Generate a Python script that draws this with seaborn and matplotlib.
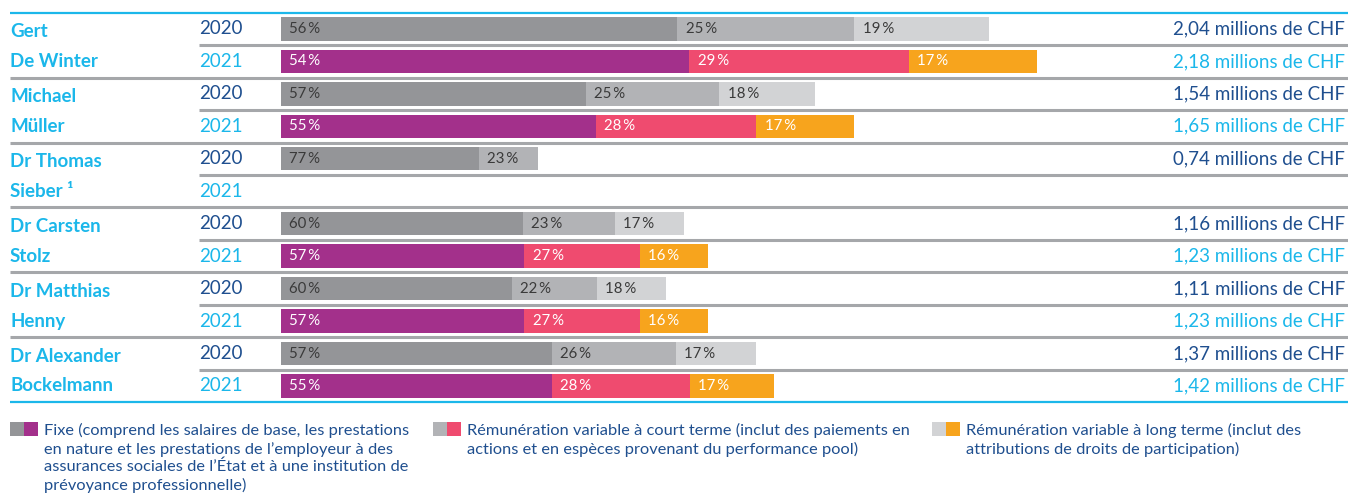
import numpy as np
import pandas as pd
import matplotlib
matplotlib.use("Agg")
import matplotlib.pyplot as plt
import seaborn as sns
from matplotlib.patches import Rectangle

# ---- data -------------------------------------------------------------
first_names = ["Gert", "Michael", "Dr Thomas", "Dr Carsten", "Dr Matthias", "Dr Alexander"]
last_names = ["De Winter", "Müller", "Sieber ¹", "Stolz", "Henny", "Bockelmann"]
years = ["2020", "2021"]
totals = [2.04, 2.18, 1.54, 1.65, 0.74, np.nan, 1.16, 1.23, 1.11, 1.23, 1.37, 1.42]
pct_fixe = [56, 54, 57, 55, 77, np.nan, 60, 57, 60, 57, 57, 55]
pct_court = [25, 29, 25, 28, 23, np.nan, 23, 27, 22, 27, 26, 28]
pct_long = [19, 17, 18, 17, 0, np.nan, 17, 16, 18, 16, 17, 17]
legend_texts = [
    "Fixe (comprend les salaires de base, les prestations\nen nature et les prestations de l\u2019employeur à des\n"
    "assurances sociales de l\u2019État et à une institution de\nprévoyance professionnelle)",
    "Rémunération variable à court terme (inclut des paiements en\nactions et en espèces provenant du performance pool)",
    "Rémunération variable à long terme (inclut des\nattributions de droits de participation)",
]

# ---- colours ----------------------------------------------------------
CYAN = "#1bb7ea"
DARK = "#1f4f8f"
LINE = "#a5a7aa"
grays = ["#949598", "#b2b3b6", "#d2d3d5"]
colors21 = ["#a3308b", "#ef4b6f", "#f7a41d"]

sns.set_theme(style="white")
plt.rcParams["font.family"] = ["Lato", "DejaVu Sans"]

n = len(totals)
rows = [str(i) for i in range(n)]
df = pd.DataFrame({
    "row": rows,
    "year": [years[i % 2] for i in range(n)],
    "total": totals,
    "fixe": pct_fixe,
    "court": pct_court,
    "long": pct_long,
})
df["s1"] = df["fixe"] / 100 * df["total"]
df["s2"] = (df["fixe"] + df["court"]) / 100 * df["total"]
df["s3"] = (df["fixe"] + df["court"] + df["long"]) / 100 * df["total"]

W, H = 1348, 498
fig = plt.figure(figsize=(W / 100, H / 100), dpi=100)
ax = fig.add_axes([0, 0, 1, 1])

X0, PPM = 281, 347.0   # pixel of bar origin, pixels per million


def px(p):
    return (p - X0) / PPM


# stacked bars: draw cumulative ends, longest first
for col, k in [("s3", 2), ("s2", 1), ("s1", 0)]:
    sns.barplot(data=df, x=col, y="row", hue="year", order=rows,
                hue_order=years, palette={"2020": grays[k], "2021": colors21[k]},
                dodge=False, width=0.72, saturation=1, linewidth=0,
                legend=False, ax=ax)

ax.set_xlim(px(0), px(W))
Y0, PPR = 29.0, 32.45
ax.set_ylim((H - Y0) / PPR, -Y0 / PPR)
ax.axis("off")

# percentage labels
for i, r in df.iterrows():
    if np.isnan(r["total"]):
        continue
    starts = [0, r["s1"], r["s2"]]
    pcts = [r["fixe"], r["court"], r["long"]]
    tc = "#3a3a3a" if r["year"] == "2020" else "white"
    for s, p in zip(starts, pcts):
        if p > 0:
            ax.annotate(f"{int(p)}\u2009%", (s, i), xytext=(6, 0),
                        textcoords="offset points", va="center", ha="left",
                        fontsize=10.8, color=tc)
    ax.text(px(1345), i, f"{r['total']:.2f}".replace(".", ",") + " millions de CHF",
            ha="right", va="center", fontsize=13.5,
            color=DARK if r["year"] == "2020" else CYAN)

# year labels and names
for i in range(n):
    ax.text(px(199), i, years[i % 2], ha="left", va="center", fontsize=13.5,
            color=DARK if i % 2 == 0 else CYAN)
for j in range(len(first_names)):
    ax.text(px(10), 2 * j + 0.08, first_names[j], ha="left", va="center",
            fontsize=13.5, fontweight="bold", color=CYAN)
    ax.text(px(10), 2 * j + 1, last_names[j], ha="left", va="center",
            fontsize=13.5, fontweight="bold", color=CYAN)

# rules
ax.hlines([-0.5, n - 0.5], px(10), px(W), color=CYAN, lw=1.6)
ax.hlines([k + 0.5 for k in range(1, n - 1, 2)], px(10), px(W), color=LINE, lw=2.2)
ax.hlines([k + 0.5 for k in range(0, n, 2)], px(199), px(W), color=LINE, lw=2.2)

# legend
leg_x = [10, 433, 932]
for k, (x, txt) in enumerate(zip(leg_x, legend_texts)):
    for m, c in enumerate([grays[k], colors21[k]]):
        fig.add_artist(Rectangle(((x + 14 * m) / W, 1 - 436 / H), 14 / W, 14 / H,
                                 transform=fig.transFigure, color=c, lw=0))
    fig.text((x + 34) / W, 1 - 423 / H, txt, ha="left", va="top",
             fontsize=11.8, color=DARK, linespacing=1.3)

fig.savefig("out.png", dpi=100)
